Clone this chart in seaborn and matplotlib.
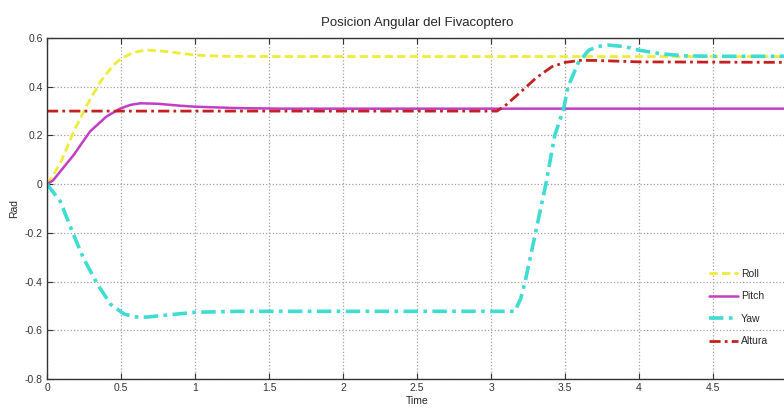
import matplotlib
matplotlib.use("Agg")
import matplotlib.pyplot as plt
import seaborn as sns
import numpy as np
from matplotlib.ticker import FormatStrFormatter

# Data
roll_t = [0, 0.05, 0.1, 0.18, 0.27, 0.36, 0.45, 0.5, 0.58, 0.67, 0.8, 1.0, 1.2, 1.5, 5.0]
roll_v = [0, 0.045, 0.10, 0.216, 0.325, 0.42, 0.49, 0.515, 0.54, 0.551, 0.545, 0.53, 0.525, 0.524, 0.524]

pitch_t = [0, 0.04, 0.1, 0.18, 0.29, 0.4, 0.49, 0.56, 0.63, 0.75, 0.9, 1.0, 1.3, 1.6, 5.0]
pitch_v = [0, 0.015, 0.06, 0.12, 0.216, 0.277, 0.309, 0.325, 0.332, 0.33, 0.322, 0.318, 0.312, 0.31, 0.31]

yaw_t = [0, 0.09, 0.17, 0.245, 0.34, 0.43, 0.52, 0.6, 0.67, 0.8, 1.0, 1.3, 3.16, 3.2,
         3.23, 3.3, 3.37, 3.43, 3.49, 3.52, 3.59, 3.66, 3.72, 3.79, 3.9, 4.0, 4.15, 4.3, 4.5, 5.0]
yaw_v = [0, -0.071, -0.194, -0.303, -0.41, -0.494, -0.533, -0.545, -0.546, -0.538, -0.526, -0.522, -0.522, -0.47,
         -0.4, -0.2, 0.0, 0.2, 0.31, 0.4, 0.5, 0.55, 0.565, 0.571, 0.565, 0.55, 0.535, 0.527, 0.525, 0.525]

altura_t = [0, 3.04, 3.1, 3.19, 3.3, 3.41, 3.5, 3.6, 3.7, 3.85, 4.0, 5.0]
altura_v = [0.3, 0.3, 0.325, 0.373, 0.434, 0.482, 0.50, 0.508, 0.508, 0.505, 0.502, 0.50]

xticks = [0, 0.5, 1, 1.5, 2, 2.5, 3, 3.5, 4, 4.5, 5]
xticklabels = ['0', '0.5', '1', '1.5', '2', '2.5', '3', '3.5', '4', '4.5', '']
yticks = [-0.8, -0.6, -0.4, -0.2, 0, 0.2, 0.4, 0.6]

sns.set_style("whitegrid")
plt.rcParams['font.family'] = ['Liberation Sans', 'DejaVu Sans']

fig = plt.figure(figsize=(7.84, 4.15), dpi=100)
ax = fig.add_axes([0.06, 0.0867, 0.944, 0.8217])

sns.lineplot(x=roll_t, y=roll_v, ax=ax, color='#ecec3c', linestyle=(0, (3, 1.5)), linewidth=2.0, label='Roll')
sns.lineplot(x=pitch_t, y=pitch_v, ax=ax, color='#c23ec4', linestyle='-', linewidth=1.8, label='Pitch')
sns.lineplot(x=yaw_t, y=yaw_v, ax=ax, color='#3fdcd2', linestyle=(0, (4, 1.5, 1, 1.5)), linewidth=2.6, label='Yaw')
sns.lineplot(x=altura_t, y=altura_v, ax=ax, color='#c4201e', linestyle=(0, (4, 1.5, 1, 1.5)), linewidth=2.0, label='Altura')

ax.set_xlim(0, 5)
ax.set_ylim(-0.8, 0.6)
ax.set_xticks(xticks)
ax.set_xticklabels(xticklabels)
ax.set_yticks(yticks)
ax.yaxis.set_major_formatter(FormatStrFormatter('%g'))
ax.tick_params(direction='in', length=4, width=0.8, labelsize=7.5, colors='#333333',
               top=True, bottom=True, left=True, pad=3)
ax.grid(True, linestyle=':', color='#a0a0a0', linewidth=0.9)

for side in ['left', 'bottom', 'top']:
    ax.spines[side].set_color('#333333')
    ax.spines[side].set_linewidth(1.0)
ax.spines['right'].set_visible(False)

ax.set_title('Posicion Angular del Fivacoptero', fontsize=9.5, pad=9)
ax.set_xlabel('Time', fontsize=7.5, labelpad=2)
ax.set_ylabel('Rad', fontsize=7.5, labelpad=4)

ax.legend(loc='center', bbox_to_anchor=(0.934, 0.21), frameon=False, fontsize=7.5,
          handlelength=2.8, labelspacing=1.2, handletextpad=0.3)

fig.savefig('out.png', dpi=100)
